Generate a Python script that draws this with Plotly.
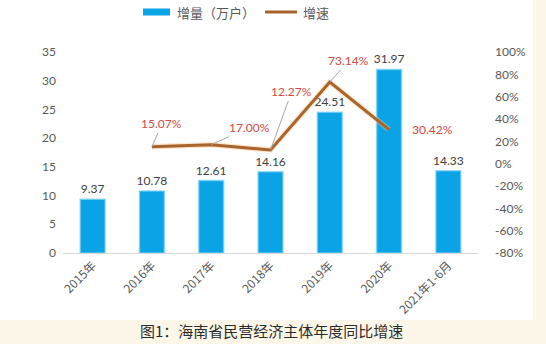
import plotly.graph_objects as go

categories = ["2015年", "2016年", "2017年", "2018年", "2019年", "2020年", "2021年1-6月"]
increase = [9.37, 10.78, 12.61, 14.16, 24.51, 31.97, 14.33]
growth = [None, 0.1507, 0.1700, 0.1227, 0.7314, 0.3042, None]
growth_labels = [None, "15.07%", "17.00%", "12.27%", "73.14%", "30.42%", None]
right_ticks = [-0.8, -0.6, -0.4, -0.2, 0.0, 0.2, 0.4, 0.6, 0.8, 1.0]
right_tick_text = ["-80%", "-60%", "-40%", "-20%", "0%", "20%", "40%", "60%", "80%", "100%"]
# label offsets (px) for growth labels
label_offsets = [None, (10, -23), (38, -17), (21, -58), (19, -21), (43, 0), None]

BLUE = "#0aa3e6"
BROWN = "#a8642c"
GRAY = "#595959"
RED = "#d44a45"
CREAM = "#fcf7e8"
NUM_FONT = "Lato"
CJK = "Noto Sans CJK SC"

fig = go.Figure()
fig.add_trace(go.Bar(
    x=categories, y=increase, width=0.42,
    marker=dict(color=BLUE, line=dict(color="rgba(120,210,250,0.7)", width=1.5)),
    text=[f"{v:.2f}" for v in increase], textposition="outside", constraintext="none",
    textfont=dict(color="#404040", size=12, family=NUM_FONT),
    cliponaxis=False, yaxis="y", showlegend=False,
))
fig.add_trace(go.Scatter(
    x=categories, y=growth, mode="lines", yaxis="y2",
    line=dict(color="rgba(246,195,140,0.45)", width=5.5), showlegend=False,
    hoverinfo="skip",
))
fig.add_trace(go.Scatter(
    x=categories, y=growth, mode="lines", yaxis="y2",
    line=dict(color=BROWN, width=3), showlegend=False,
))

for c, g, lab, off in zip(categories, growth, growth_labels, label_offsets):
    if g is None:
        continue
    fig.add_annotation(
        x=c, y=g, xref="x", yref="y2", text=lab,
        showarrow=off[1] != 0, ax=off[0], ay=off[1],
        xshift=0 if off[1] != 0 else off[0],
        arrowhead=0, arrowwidth=1, arrowcolor="#a6a6a6",
        font=dict(color=RED, size=12, family=NUM_FONT),
    )

# custom legend
fig.add_shape(type="rect", xref="paper", yref="paper",
              x0=0.1928, x1=0.2578, y0=1.1816, y1=1.2164,
              fillcolor=BLUE, line=dict(width=0))
fig.add_annotation(xref="paper", yref="paper", x=0.270, y=1.199, text="增量（万户）",
                   showarrow=False, xanchor="left", yanchor="middle",
                   font=dict(color=GRAY, size=13, family=CJK))
fig.add_shape(type="line", xref="paper", yref="paper",
              x0=0.4867, x1=0.5639, y0=1.199, y1=1.199,
              line=dict(color=BROWN, width=3))
fig.add_annotation(xref="paper", yref="paper", x=0.5735, y=1.199, text="增速",
                   showarrow=False, xanchor="left", yanchor="middle",
                   font=dict(color=GRAY, size=13, family=CJK))

# cream background strips
fig.add_shape(type="rect", xref="paper", yref="paper", layer="below",
              x0=1.1325, x1=1.3, y0=-0.6, y1=1.4, fillcolor=CREAM, line=dict(width=0))
fig.add_shape(type="rect", xref="paper", yref="paper", layer="below",
              x0=-0.3, x1=1.3, y0=-0.6, y1=-0.3333, fillcolor=CREAM, line=dict(width=0))

fig.add_annotation(xref="paper", yref="paper", x=0.5036, y=-0.388,
                   text="图1：海南省民营经济主体年度同比增速", showarrow=False,
                   xanchor="center", yanchor="middle",
                   font=dict(color="#2b2b2b", size=15, family=CJK))

fig.update_layout(
    width=546, height=344,
    margin=dict(l=63, r=68, t=52, b=91),
    paper_bgcolor="white", plot_bgcolor="white",
    showlegend=False, bargap=0.58,
    xaxis=dict(
        tickangle=-45, showgrid=False, showline=True, linecolor="#d9d9d9",
        linewidth=1, ticks="", tickfont=dict(color=GRAY, size=12, family=CJK),
        zeroline=False,
    ),
    yaxis=dict(
        range=[0, 35], dtick=5, showgrid=False, zeroline=False, showline=False,
        tickfont=dict(color=GRAY, size=12, family=NUM_FONT), ticklabelstandoff=6,
    ),
    yaxis2=dict(
        overlaying="y", side="right", range=[-0.8, 1.0],
        tickmode="array", tickvals=right_ticks, ticktext=right_tick_text,
        showgrid=False, zeroline=False, showline=False,
        tickfont=dict(color=GRAY, size=12, family=NUM_FONT), ticklabelstandoff=16,
    ),
    font=dict(family=NUM_FONT),
)

fig.write_html("out.html")
